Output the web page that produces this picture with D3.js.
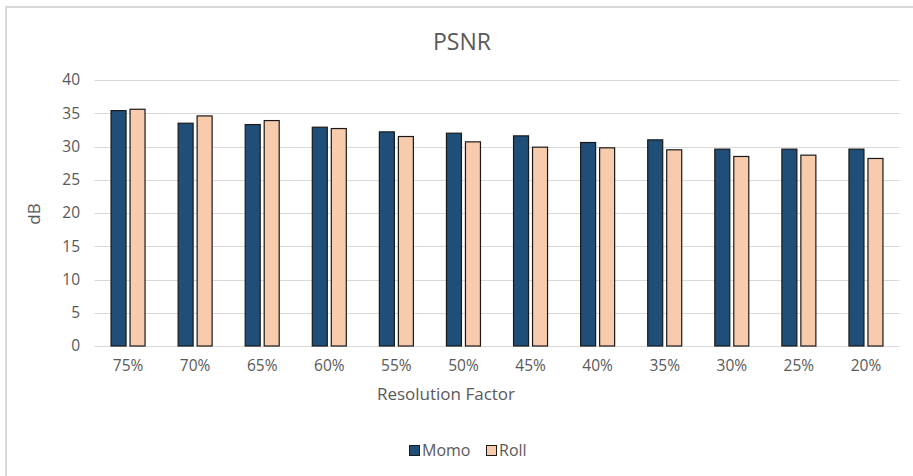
<!DOCTYPE html>
<html><head><meta charset="utf-8">
<script src="https://cdn.jsdelivr.net/npm/d3@7"></script>
<style>
html,body{margin:0;padding:0;background:#fff;}
svg{display:block;font-family:"Open Sans",sans-serif;}
</style></head>
<body>
<svg id="chart" width="913" height="476"></svg>
<script>
const categories = ["75%","70%","65%","60%","55%","50%","45%","40%","35%","30%","25%","20%"];
const momo = [35.4,33.5,33.3,32.9,32.2,32.0,31.6,30.6,31.0,29.6,29.6,29.6];
const roll = [35.6,34.6,33.9,32.7,31.5,30.7,29.9,29.8,29.5,28.5,28.7,28.2];
const seriesNames = ["Momo","Roll"];
const seriesColors = ["#1F4E79","#F8CBAD"];
const yTicks = [0,5,10,15,20,25,30,35,40];

(function(){
const svg = d3.select("#chart");
const textColor = "#595959";

svg.append("path").attr("d","M6,480 L6,7 L920,7").attr("fill","none").attr("stroke","#d9d9d9").attr("stroke-width",2);

const pLeft = 94.5, pRight = 899.5, pTop = 80, pBottom = 346;
const x = d3.scaleBand().domain(categories).range([pLeft,pRight]).padding(0);
const y = d3.scaleLinear().domain([0,40]).range([pBottom,pTop]);

svg.append("g").selectAll("line").data(yTicks).join("line")
  .attr("x1",pLeft).attr("x2",pRight)
  .attr("y1",d=>Math.round(y(d))+0.5).attr("y2",d=>Math.round(y(d))+0.5)
  .attr("stroke","#d9d9d9").attr("stroke-width",1);

const yAxis = d3.axisLeft(y).tickValues(yTicks).tickSize(0).tickPadding(0);
const gy = svg.append("g").attr("transform",`translate(${80},0)`).call(yAxis);
gy.select(".domain").remove();
gy.selectAll("text").attr("fill",textColor).style("font-size","15.5px").style("font-family","Open Sans");

const xAxis = d3.axisBottom(x).tickSize(0).tickPadding(0);
const gx = svg.append("g").attr("transform",`translate(0,${360})`).call(xAxis);
gx.select(".domain").remove();
gx.selectAll("text").attr("fill",textColor).style("font-size","15.5px").style("font-family","Open Sans");

const bw = 15, gap = 4;
[momo, roll].forEach((vals, si) => {
  svg.append("g").selectAll("rect").data(vals).join("rect")
    .attr("x",(d,i)=> x(categories[i]) + x.bandwidth()/2 + (si===0 ? -gap/2 - bw : gap/2))
    .attr("y",d=>y(d))
    .attr("width",bw)
    .attr("height",d=>y(0)-y(d))
    .attr("fill",seriesColors[si])
    .attr("stroke","#1a1a1a").attr("stroke-width",1.2);
});

svg.append("text").attr("x",462).attr("y",50).attr("text-anchor","middle")
  .attr("fill",textColor).style("font-size","23px").text("PSNR");

svg.append("text").attr("x",446).attr("y",400).attr("text-anchor","middle")
  .attr("fill",textColor).style("font-size","17px").text("Resolution Factor");
svg.append("text").attr("transform","translate(33,214) rotate(-90)").attr("text-anchor","middle")
  .attr("dominant-baseline","central")
  .attr("fill",textColor).style("font-size","17px").text("dB");

const legX = [409, 486];
seriesNames.forEach((n,i)=>{
  const g = svg.append("g").attr("transform",`translate(${legX[i]},${445})`);
  g.append("rect").attr("x",0.5).attr("y",0.5).attr("width",10).attr("height",10)
    .attr("fill",seriesColors[i]).attr("stroke","#1a1a1a").attr("stroke-width",1);
  g.append("text").attr("x",13).attr("y",11).attr("fill",textColor).style("font-size","16px").text(n);
});
})();
</script>
</body></html>
